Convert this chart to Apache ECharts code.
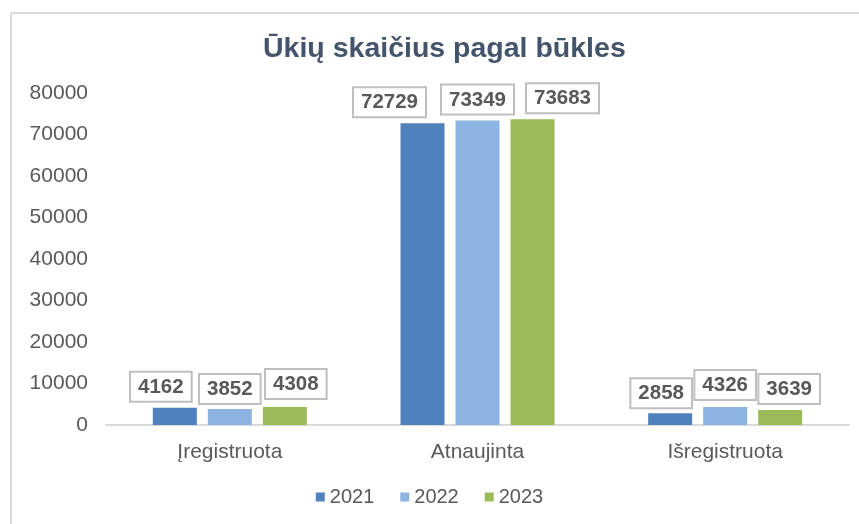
<!DOCTYPE html>
<html><head><meta charset="utf-8">
<script src="https://cdn.jsdelivr.net/npm/echarts@6/dist/echarts.min.js"></script>
<style>html,body{margin:0;padding:0;background:#fff}#c{width:859px;height:524px}</style>
</head><body><div id="c"></div>
<script>
const categories = ['Įregistruota', 'Atnaujinta', 'Išregistruota'];
const years = ['2021', '2022', '2023'];
const values2021 = [4162, 72729, 2858];
const values2022 = [3852, 73349, 4326];
const values2023 = [4308, 73683, 3639];
const yTicks = [0, 10000, 20000, 30000, 40000, 50000, 60000, 70000, 80000];

// styling / layout (not data)
const colors = ['#4F81BD', '#8DB3E2', '#9BBB59'];
const labelShift = [
  [[-14, 0], [-33, 0], [-9, 1]],
  [[0, 1], [0, 0], [0, -1]],
  [[11, -2], [30, 0], [9, 0]]
];

const chart = echarts.init(document.getElementById('c'));
const font = 'Liberation Sans, Arial, sans-serif';
const seriesData = [values2021, values2022, values2023];
chart.setOption({
  animation: false,
  graphic: [
    {type: 'line', shape: {x1: 11, y1: 13, x2: 859, y2: 13}, style: {stroke: '#d9d9d9', lineWidth: 2}},
    {type: 'line', shape: {x1: 11, y1: 13, x2: 11, y2: 524}, style: {stroke: '#d9d9d9', lineWidth: 2}}
  ],
  title: {
    text: 'Ūkių skaičius pagal būkles', left: 258, top: 30,
    textStyle: {fontFamily: font, fontSize: 28.5, fontWeight: 'bold', color: '#44546A'}
  },
  legend: {
    bottom: 12, left: 'center', itemWidth: 9, itemHeight: 9, itemGap: 26,
    icon: 'rect',
    textStyle: {fontFamily: font, fontSize: 20, color: '#595959'},
    data: years
  },
  grid: {left: 106, right: 10, top: 93, bottom: 99},
  xAxis: {
    type: 'category', data: categories,
    axisLine: {lineStyle: {color: '#d9d9d9', width: 2}},
    axisTick: {show: false},
    axisLabel: {fontFamily: font, fontSize: 21, color: '#595959', margin: 17}
  },
  yAxis: {
    type: 'value', min: yTicks[0], max: yTicks[yTicks.length - 1], interval: 10000,
    splitLine: {show: false}, axisLine: {show: false}, axisTick: {show: false},
    axisLabel: {fontFamily: font, fontSize: 21, color: '#595959', margin: 18,
      formatter: v => String(v)}
  },
  series: years.map((y, i) => ({
    name: y, type: 'bar', barWidth: 44, barGap: '25%',
    data: seriesData[i].map((v, j) => ({value: v, label: {offset: labelShift[i][j]}})),
    itemStyle: {color: colors[i]},
    label: {
      show: true, position: 'top', distance: 7,
      fontFamily: font, fontSize: 20.5, fontWeight: 'bold', color: '#595959',
      backgroundColor: '#fff', borderColor: '#bfbfbf', borderWidth: 2,
      padding: [4, 7, 3, 7]
    }
  }))
});
</script></body></html>
